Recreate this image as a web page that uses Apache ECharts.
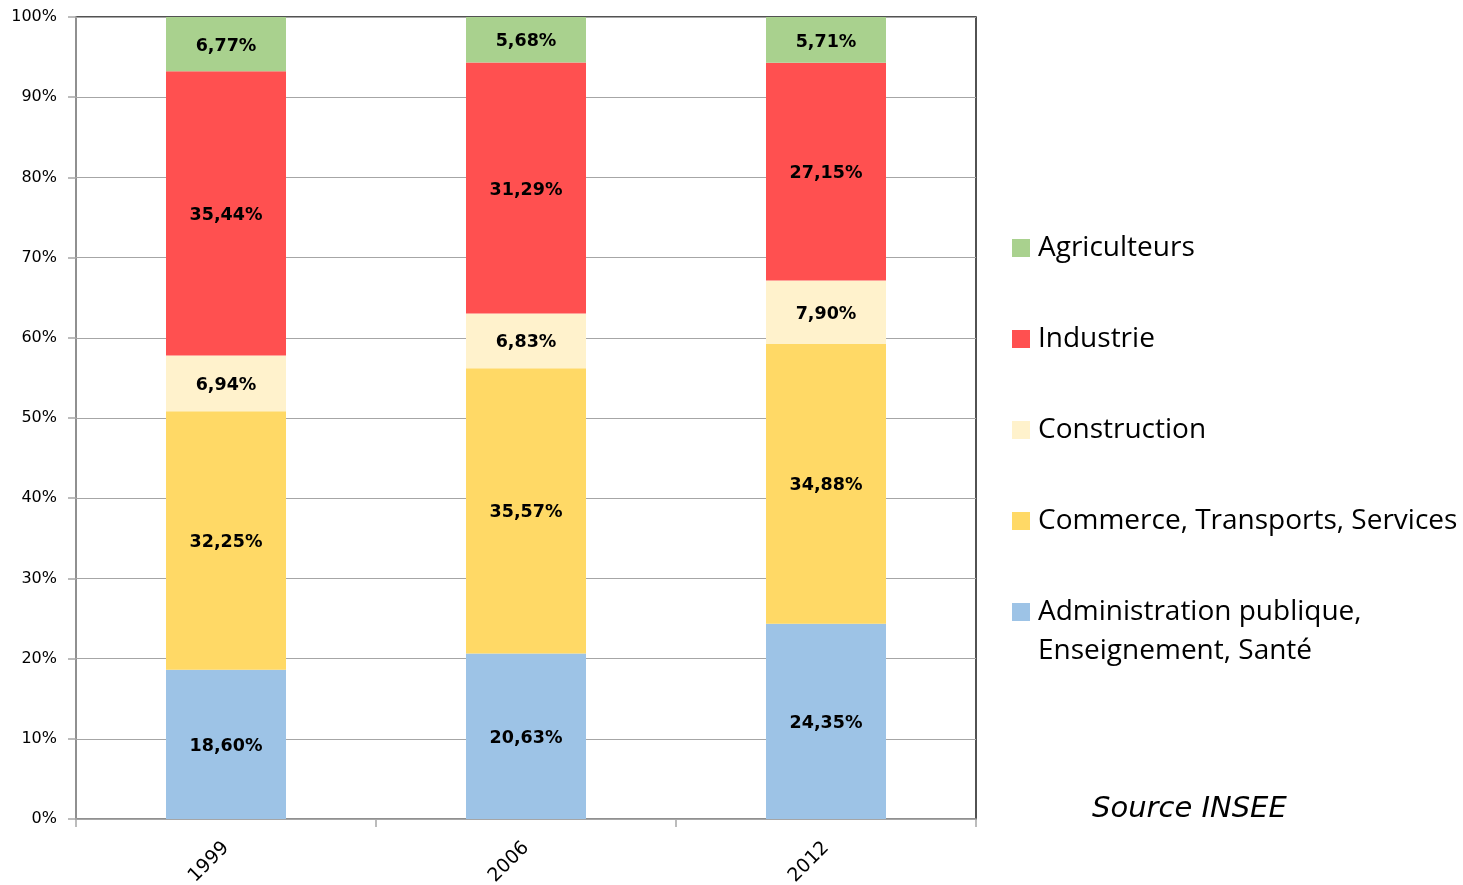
<!DOCTYPE html>
<html>
<head>
<meta charset="utf-8">
<script src="https://cdn.jsdelivr.net/npm/echarts@6/dist/echarts.min.js"></script>
<style>
html,body{margin:0;padding:0;background:#fff;}
#chart{width:1463px;height:885px;}
</style>
</head>
<body>
<div id="chart"></div>
<script>
const categories = ['1999', '2006', '2012'];
const admin = [18.60, 20.63, 24.35];
const commerce = [32.25, 35.57, 34.88];
const construction = [6.94, 6.83, 7.90];
const industrie = [35.44, 31.29, 27.15];
const agriculteurs = [6.77, 5.68, 5.71];
const yTicks = [0, 10, 20, 30, 40, 50, 60, 70, 80, 90, 100];

const chart = echarts.init(document.getElementById('chart'));
const labelFmt = p => p.value.toFixed(2).replace('.', ',') + '%';
function mk(name, data, color) {
  return {
    name: name, type: 'bar', stack: 'total', data: data, barWidth: '40%',
    itemStyle: { color: color },
    label: { show: true, position: 'inside', formatter: labelFmt, offset: [0, 2],
      fontFamily: 'DejaVu Sans', fontWeight: 'bold', fontSize: 17.5, color: '#000' }
  };
}
const axisFont = 'DejaVu Sans';
chart.setOption({
  animation: false,
  grid: { left: 76, right: 487, top: 17, bottom: 66, show: true, borderColor: '#1a1a1a', borderWidth: 1.5,
    containLabel: false, outerBoundsMode: 'none' },
  xAxis: {
    type: 'category', data: categories,
    axisLine: { lineStyle: { color: '#A6A6A6', width: 1.5 } },
    axisTick: { show: true, length: 8, lineStyle: { color: '#A6A6A6', width: 1.5 } },
    axisLabel: { rotate: 45, margin: 26, fontFamily: axisFont, fontSize: 19, color: '#000' }
  },
  yAxis: {
    type: 'value', min: 0, max: 100, interval: 10,
    axisLine: { show: true, lineStyle: { color: '#A6A6A6', width: 1.5 } },
    axisTick: { show: true, length: 8, lineStyle: { color: '#A6A6A6', width: 1.5 } },
    splitLine: { lineStyle: { color: '#A6A6A6', width: 1 } },
    axisLabel: { margin: 19, fontFamily: axisFont, fontSize: 16, color: '#000',
      formatter: v => (yTicks.indexOf(v) >= 0 ? v + '%' : '') }
  },
  legend: {
    orient: 'vertical', left: 1012, top: 233, padding: 0,
    itemWidth: 18, itemHeight: 18, itemGap: 61,
    icon: 'rect',
    textStyle: { fontFamily: 'Open Sans', fontSize: 28, color: '#000', lineHeight: 30, padding: [0, 0, 0, 3] },
    data: ['Agriculteurs', 'Industrie', 'Construction', 'Commerce, Transports, Services', 'Administration publique,']
  },
  graphic: [
    { type: 'text', left: 1038, top: 637, style: { text: 'Enseignement, Santé', font: '28px "Open Sans"', fill: '#000' } },
    { type: 'text', left: 1092, top: 795, style: { text: 'Source INSEE', font: 'italic 29px "DejaVu Sans"', fill: '#000' } }
  ],
  series: [
    mk('Administration publique,', admin, '#9DC3E6'),
    mk('Commerce, Transports, Services', commerce, '#FFD966'),
    mk('Construction', construction, '#FFF2CC'),
    mk('Industrie', industrie, '#FF5050'),
    mk('Agriculteurs', agriculteurs, '#A9D18E')
  ]
});
</script>
</body>
</html>
